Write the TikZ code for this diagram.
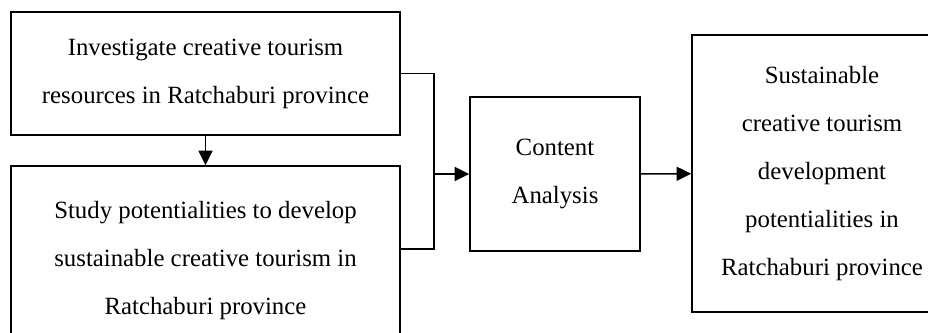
\documentclass[tikz,border=0pt]{standalone}
\usepackage{fontspec}
\setmainfont{Liberation Serif}
\usepackage{tikz}
\usetikzlibrary{arrows.meta}

\tikzset{
	stagebox/.style={draw, line width=1.1pt, align=center, inner sep=0pt, font=\fontsize{18.6}{36}\selectfont},
	flow/.style={line width=1.1pt, -{Triangle[length=11pt,width=10.5pt]}}
}

\begin{document}
\begin{tikzpicture}[x=0.75pt,y=-0.75pt]
	\useasboundingbox (0,0) rectangle (928,332);
	\clip (0,0) rectangle (928,332);

	\node[stagebox, minimum width=291.75pt, minimum height=92.25pt] (investigate) at (205.5,73.5) {Investigate creative tourism\\resources in Ratchaburi province};
	\node[stagebox, minimum width=291.75pt, minimum height=142.5pt] (study) at (205.5,261) {Study potentialities to develop\\sustainable creative tourism in\\Ratchaburi province};
	\node[stagebox, minimum width=127.5pt, minimum height=115.5pt] (content) at (555,174) {Content\\Analysis};
	\node[stagebox, minimum width=195pt, minimum height=207.75pt] (result) at (822,173.5) {Sustainable\\creative tourism\\development\\potentialities in\\Ratchaburi province};

	\coordinate (merge) at (434,174);

	\draw[flow] (investigate) -- (study);
	\draw[line width=1.1pt] (investigate.east) -| (merge) |- ([yshift=9pt]study.east);
	\draw[flow] (merge) -- (content);
	\draw[flow] (content) -- (result);
\end{tikzpicture}
\end{document}
